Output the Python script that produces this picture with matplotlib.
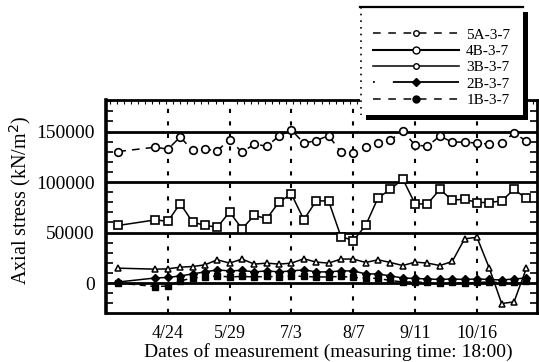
import matplotlib
matplotlib.use("Agg")
import matplotlib.pyplot as plt
import matplotlib.dates as mdates
from matplotlib.lines import Line2D
from matplotlib.patches import Rectangle
import numpy as np
import pandas as pd

# ---------------- data ----------------
dates = ["3/27", "4/17", "4/24", "5/1", "5/8", "5/15", "5/22", "5/29", "6/5", "6/12",
         "6/19", "6/26", "7/3", "7/10", "7/17", "7/24", "7/31", "8/7", "8/14", "8/21",
         "8/28", "9/4", "9/11", "9/18", "9/25", "10/2", "10/9", "10/16", "10/23", "10/30",
         "11/6", "11/13"]

s5A = [130200, 134500, 132500, 144500, 131500, 132500, 131000, 142000, 129500, 137500,
       135500, 145500, 151500, 138500, 141000, 146000, 129500, 128500, 134500, 138500,
       141500, 150500, 136500, 135500, 145500, 139500, 139500, 138500, 137500, 138500,
       148500, 140500]
s4B = [57000, 62500, 61000, 78700, 60300, 57000, 55300, 70300, 53700, 67000,
       63700, 80300, 88000, 62700, 81300, 81300, 46000, 42000, 57000, 84300,
       92700, 103000, 78300, 78300, 92700, 82000, 83000, 79700, 79700, 81300,
       92700, 83700]
s3B = [14700, 13700, 14000, 15700, 16300, 18000, 23000, 19700, 23700, 18700,
       19700, 18700, 19700, 24000, 20700, 19700, 23700, 23700, 20300, 23000,
       20300, 17300, 20700, 19700, 17300, 21300, 43700, 45300, 14700, -20300,
       -18700, 14700]
s2B = [1000, 5000, 5500, 7000, 9000, 11000, 13000, 12000, 12500, 11000,
       12000, 11000, 12000, 13000, 11000, 11000, 12000, 12000, 9000, 9000,
       7000, 5000, 4500, 4000, 3500, 4000, 3500, 4000, 3500, 3000,
       4000, 5000]
s1B = [0, -3500, -3000, 2000, 5000, 6000, 7000, 6000, 6500, 6000,
       6500, 6000, 7000, 6500, 6000, 6000, 6500, 5500, 5000, 4500,
       2500, 1000, 1000, 500, 0, 500, 0, 500, 1000, 500,
       1000, 1500]

tick_labels = ["4/24", "5/29", "7/3", "8/7", "9/11", "10/16"]
series_names = ["5A-3-7", "4B-3-7", "3B-3-7", "2B-3-7", "1B-3-7"]
ref_lines = [0, 50000, 100000, 150000]

YEAR = 2001
def to_dt(lst):
    return pd.to_datetime([f"{YEAR}/{d}" for d in lst], format="%Y/%m/%d")

x = to_dt(dates)
xt = to_dt(tick_labels)

# ---------------- figure ----------------
W, H = 539, 362
fig = plt.figure(figsize=(W / 100, H / 100), dpi=100)
plt.rcParams['font.family'] = ['Liberation Serif', 'DejaVu Serif']

def fx(px):
    return px / W
def fy(py):
    return 1 - py / H

ax = fig.add_axes([fx(106), fy(313), (537 - 106) / W, (313 - 100) / H])

ax.plot(x, s5A, ls=(0, (5, 4)), lw=1.1, color="k", marker="o", ms=5.5, mfc="white", mec="k", mew=1.2, zorder=4)
ax.plot(x, s4B, ls="-", lw=1.1, color="k", marker="s", ms=5.5, mfc="white", mec="k", mew=1.2, zorder=4)
ax.plot(x, s3B, ls="-", lw=1.1, color="k", marker="^", ms=5, mfc="white", mec="k", mew=1.1, zorder=4)
ax.plot(x, s2B, ls="-", lw=1.1, color="k", marker="D", ms=4, mfc="k", mec="k", zorder=4)
ax.plot(x, s1B, ls=(0, (4, 3)), lw=1.1, color="k", marker="s", ms=5, mfc="k", mec="k", zorder=4)

for v in ref_lines:
    ax.axhline(v, color="k", lw=2.0, zorder=3)
for t in xt:
    ax.axvline(t, color="k", lw=1.5, ls=(0, (2, 4)), zorder=2)

ax.set_xlim(pd.Timestamp(f"{YEAR}-03-20"), pd.Timestamp(f"{YEAR}-11-19"))
ax.set_ylim(-29700, 181200)

ax.set_yticks(ref_lines)
ax.set_yticklabels([str(v) for v in ref_lines], fontsize=14)
ax.set_yticks(np.arange(-20000, 180001, 10000), minor=True)
ax.tick_params(axis="y", which="major", direction="in", length=0, pad=8, left=True, right=True)
ax.tick_params(axis="y", which="minor", direction="in", length=5, width=1.2, left=True, right=True)

ax.set_xticks(xt)
ax.set_xticklabels(tick_labels, fontsize=13)
ax.xaxis.set_minor_locator(mdates.DayLocator(interval=4))
ax.tick_params(axis="x", which="major", direction="in", length=0, pad=9)
ax.tick_params(axis="x", which="minor", direction="in", length=3, width=0.8, bottom=False, top=True)

for sp in ax.spines.values():
    sp.set_linewidth(2.0)
ax.spines["left"].set_linewidth(2.6)

fig.text(fx(328), fy(352), "Dates of measurement (measuring time: 18:00)",
         ha="center", va="center", fontsize=14)
fig.text(fx(20), fy(200), "Axial stress (kN/m$^2$)", rotation=90,
         ha="center", va="center", fontsize=14.5)

# ---------------- legend box ----------------
shadow = Rectangle((fx(366), fy(120)), (528 - 366) / W, (120 - 12) / H,
                   transform=fig.transFigure, facecolor="k", edgecolor="none", zorder=3)
box = Rectangle((fx(360), fy(115)), (523 - 360) / W, (115 - 7) / H,
                transform=fig.transFigure, facecolor="white", edgecolor="none", zorder=3.5)
fig.patches.extend([shadow, box])
fig.add_artist(Line2D([fx(360), fx(523)], [fy(7), fy(7)], transform=fig.transFigure,
                      color="k", lw=1.6, zorder=4))
fig.add_artist(Line2D([fx(361), fx(361)], [fy(7), fy(115)], transform=fig.transFigure,
                      color="k", lw=1.2, ls=(0, (1, 3)), zorder=4))

handles = [
    Line2D([], [], ls=(0, (5, 5)), lw=1.1, color="k", marker="o", ms=4, mfc="white", mec="k"),
    Line2D([], [], ls="-", lw=1.5, color="k", marker="o", ms=5, mfc="white", mec="k"),
    Line2D([], [], ls="-", lw=1.1, color="k", marker="o", ms=4, mfc="white", mec="k"),
    Line2D([], [], ls=(0, (1, 10, 40, 2)), lw=1.3, color="k", marker="D", ms=4, mfc="k", mec="k"),
    Line2D([], [], ls=(0, (5, 5)), lw=1.1, color="k", marker="o", ms=5, mfc="k", mec="k"),
]
leg = fig.legend(handles, series_names, loc="upper left",
                 bbox_to_anchor=(fx(373), fy(28)), bbox_transform=fig.transFigure,
                 frameon=False, fontsize=11, handlelength=5.6, handletextpad=0.5,
                 labelspacing=0.17, borderpad=0, borderaxespad=0)
leg.set_zorder(6)

fig.savefig("out.png", dpi=100)
